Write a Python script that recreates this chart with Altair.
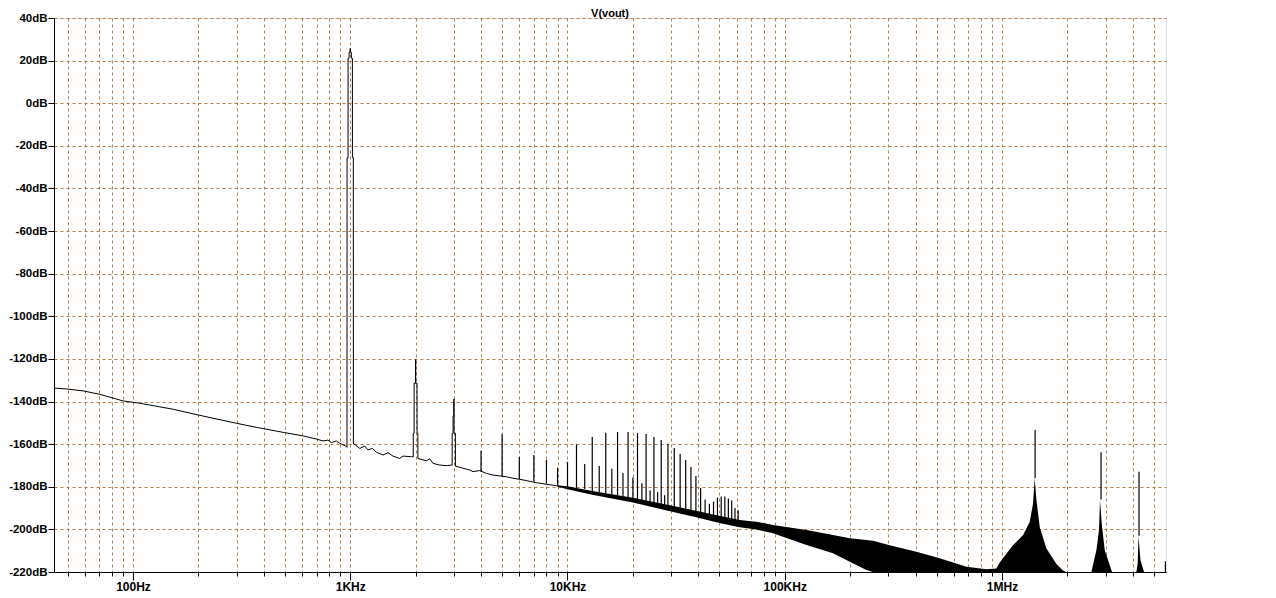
import altair as alt
import pandas as pd

# ---------------- data ----------------
# main trace (Hz, dB) from the left edge to ~9 kHz, including 1k/2k/3k peaks
trace_freq = [43.3, 49.4, 58.9, 70.3, 89.9, 107.3, 152.8, 199.2, 299.2, 369.9,
              499.3, 606, 698.6, 749.3, 789.9, 818.8, 863.4, 894.2, 953, 966,
              967, 977, 977.5, 987.5, 988, 998, 1000, 1002, 1012, 1012.5,
              1023, 1023.5, 1033, 1034, 1048, 1106, 1166, 1207, 1265, 1320,
              1415, 1492, 1573, 1689, 1749, 1912, 1950, 1951, 1968, 1969,
              1998, 2000, 2002, 2030, 2031, 2048, 2049, 2241, 2322, 2404,
              2580, 2770, 2921, 2945, 2946, 2974, 2975, 2994, 3000, 3006,
              3048, 3049, 3304, 3545, 3673, 3943, 4233, 4540, 4873, 5233,
              5613, 6025, 6469, 7192, 7993, 8890, 9100]
trace_db = [-133.7, -134.1, -135.0, -136.6, -139.7, -140.8, -143.6, -146.3, -150.2, -152.1,
            -154.6, -156.1, -157.6, -158.5, -158.1, -159.3, -158.5, -159.6, -160.9, -161.5,
            -25.7, -25.7, 21.1, 21.1, 23.9, 23.9, 25.8, 23.9, 23.9, 21.1,
            21.1, -25.5, -25.5, -160.0, -160.1, -162.0, -160.9, -162.7, -162.0, -163.8,
            -165.1, -164.0, -165.6, -166.7, -165.6, -165.9, -166.0, -154.9, -154.9, -131.4,
            -131.4, -120.2, -131.4, -131.4, -154.9, -154.9, -166.7, -167.8, -166.9, -169.0,
            -169.8, -170.1, -169.8, -169.9, -154.9, -154.9, -146.8, -146.8, -138.8, -154.9,
            -154.9, -170.3, -171.3, -172.1, -172.9, -172.4, -173.7, -174.5, -174.9, -175.3,
            -176.0, -176.5, -177.1, -178.1, -178.8, -179.5, -179.6]

# harmonic / spur spikes: frequency, top (dB), foot (dB)
spike_freq = [4000, 5000, 6000, 7000, 8000, 9000, 10000, 11000, 12000, 13000,
              14000, 15000, 16000, 17000, 18000, 19000, 20000, 21000, 22000, 23000,
              24000, 25000, 26000, 27000, 28000, 29000, 31000, 33000, 35000, 37000,
              39000, 41000, 43000, 45000, 47000, 49000, 51000, 53000, 55000, 57000,
              59000, 61000, 1.42e6, 2.857e6, 4.272e6, 5.65e6]
spike_top = [-163.1, -155.4, -165.9, -165.1, -167.4, -171.0, -168.3, -160.1, -169.3, -156.6,
             -170.3, -154.7, -171.6, -154.3, -173.5, -154.3, -175.7, -154.8, -178.4, -155.2,
             -181.8, -156.6, -182.5, -158.1, -184.0, -159.8, -161.8, -164.6, -167.4, -170.7,
             -174.9, -180.6, -186.0, -188.0, -187.0, -185.1, -184.6, -184.6, -185.5, -186.5,
             -190.0, -191.0, -153.4, -163.8, -172.9, -215.0]
spike_base = [-173.0, -175.0, -176.5, -177.5, -178.5, -179.3, -180.0, -180.5, -181.0, -182.0,
              -182.5, -183.0, -183.5, -184.0, -184.5, -185.0, -185.5, -186.0, -186.5, -187.0,
              -187.5, -187.7, -188.0, -188.3, -188.7, -189.0, -189.8, -190.5, -191.0, -191.8,
              -192.3, -193.0, -193.5, -194.0, -194.5, -195.0, -195.3, -195.6, -196.0, -196.3,
              -196.8, -197.2, -176.0, -186.0, -203.0, -220.0]

# dense noise band and switching-spur skirts: frequency, upper and lower envelope (dB)
env_freq = [9000, 10000, 13000, 20000, 30000, 40000, 50000, 62000, 74000, 88300,
            125800, 166800, 199100, 237600, 254800, 304100, 403500, 516700, 685800, 847700,
            942000, 975700, 1.123e6, 1.25e6, 1.341e6, 1.389e6, 1.414e6, 1.44e6, 1.492e6, 1.601e6,
            1.78e6, 1.909e6, 1.97e6, 2.579e6, 2.72e6, 2.796e6, 2.825e6, 2.877e6, 2.97e6, 3.209e6,
            4.155e6, 4.213e6, 4.25e6, 4.335e6, 4.505e6, 5.686e6]
env_upper = [-179.3, -179.8, -182.0, -185.2, -188.8, -191.5, -193.6, -195.6, -196.4, -197.9,
             -200.3, -202.6, -204.2, -205.0, -205.3, -207.5, -210.5, -213.6, -217.5, -218.7,
             -218.4, -215.5, -207.5, -202.6, -196.5, -188.0, -176.0, -186.2, -199.0, -209.0,
             -216.3, -219.3, -220.0, -220.0, -209.7, -200.3, -186.2, -197.2, -209.7, -220.0,
             -220.0, -215.9, -203.0, -214.4, -220.0, -220.0]
env_lower = [-180.0, -181.2, -183.8, -187.4, -191.6, -194.5, -197.0, -199.0, -200.0, -201.8,
             -207.3, -211.2, -215.2, -219.1, -220.0, -220.0, -220.0, -220.0, -220.0, -220.0,
             -220.0, -220.0, -220.0, -220.0, -220.0, -220.0, -220.0, -220.0, -220.0, -220.0,
             -220.0, -220.0, -220.0, -220.0, -220.0, -220.0, -220.0, -220.0, -220.0, -220.0,
             -220.0, -220.0, -220.0, -220.0, -220.0, -220.0]

# axes
y_ticks = [-220, -200, -180, -160, -140, -120, -100, -80, -60, -40, -20, 0, 20, 40]
x_major = [100, 1000, 10000, 100000, 1000000]
x_major_labels = ["100Hz", "1KHz", "10KHz", "100KHz", "1MHz"]
x_minor = [50, 60, 70, 80, 90,
           200, 300, 400, 500, 600, 700, 800, 900,
           2000, 3000, 4000, 5000, 6000, 7000, 8000, 9000,
           20000, 30000, 40000, 50000, 60000, 70000, 80000, 90000,
           200000, 300000, 400000, 500000, 600000, 700000, 800000, 900000,
           2000000, 3000000, 4000000, 5000000]
x_domain = [43.3, 5.686e6]
y_domain = [-220, 40]

# ---------------- chart ----------------
GRID = "#b07f50"
FONT = "Liberation Sans"

trace_df = pd.DataFrame({"f": trace_freq, "db": trace_db})
spike_df = pd.DataFrame({"f": spike_freq, "top": spike_top, "base": spike_base})
env_df = pd.DataFrame({"f": env_freq, "up": env_upper, "lo": env_lower})

xs = alt.Scale(type="log", domain=x_domain, nice=False)
ys = alt.Scale(domain=y_domain, nice=False, zero=False)

label_expr = " : ".join(
    [f"abs(datum.value - {v}) < {v * 1e-6} ? '{t}'" for v, t in zip(x_major, x_major_labels)]
) + " : ''"

y_axis = alt.Axis(values=y_ticks, labelExpr="datum.value + 'dB'", title=None,
                  tickSize=6, tickColor="black", domainColor="black",
                  labelFont=FONT, labelFontSize=11.5, labelFontWeight="bold",
                  labelColor="black", labelPadding=1,
                  grid=True, gridColor=GRID, gridDash=[3, 3], gridWidth=1, gridOpacity=1)

x_grid_axis = alt.Axis(values=x_minor + x_major, labels=False, title=None, orient="bottom",
                       tickSize=4, tickColor="black", domainColor="black",
                       grid=True, gridColor=GRID, gridDash=[3, 3], gridWidth=1, gridOpacity=1,
                       zindex=0)

x_major_axis = alt.Axis(values=x_major, labelExpr=label_expr, title=None, orient="bottom",
                        tickSize=8, tickColor="black", domainColor="black",
                        labelFont=FONT, labelFontSize=12, labelFontWeight="bold",
                        labelColor="black", labelPadding=1, grid=False, zindex=1,
                        labelOverlap=False)

band = alt.Chart(env_df).mark_area(color="black", opacity=1).encode(
    x=alt.X("f:Q", scale=xs, axis=x_grid_axis),
    y=alt.Y("up:Q", scale=ys, axis=y_axis),
    y2="lo:Q",
)

trace = alt.Chart(trace_df).mark_line(color="black", strokeWidth=1).encode(
    x=alt.X("f:Q", scale=xs, axis=x_major_axis),
    y=alt.Y("db:Q", scale=ys, axis=y_axis),
    order=alt.Order("f:Q"),
)

spikes = alt.Chart(spike_df).mark_rule(color="black", strokeWidth=1.2).encode(
    x=alt.X("f:Q", scale=xs, axis=None),
    y=alt.Y("top:Q", scale=ys, axis=y_axis),
    y2="base:Q",
)

chart = alt.layer(band, trace, spikes).resolve_axis(x="independent").properties(
    width=1112,
    height=554,
    title=alt.Title("V(vout)", fontSize=11, font=FONT, fontWeight="bold",
                    color="black", anchor="middle", offset=2, dy=9),
    autosize=alt.AutoSizeParams(type="none"),
    padding={"left": 46, "top": 10, "right": 20, "bottom": 20},
).configure_view(stroke="black", strokeWidth=1).configure(background="white")

chart.save("out.html", embed_options={"renderer": "svg", "actions": False})
